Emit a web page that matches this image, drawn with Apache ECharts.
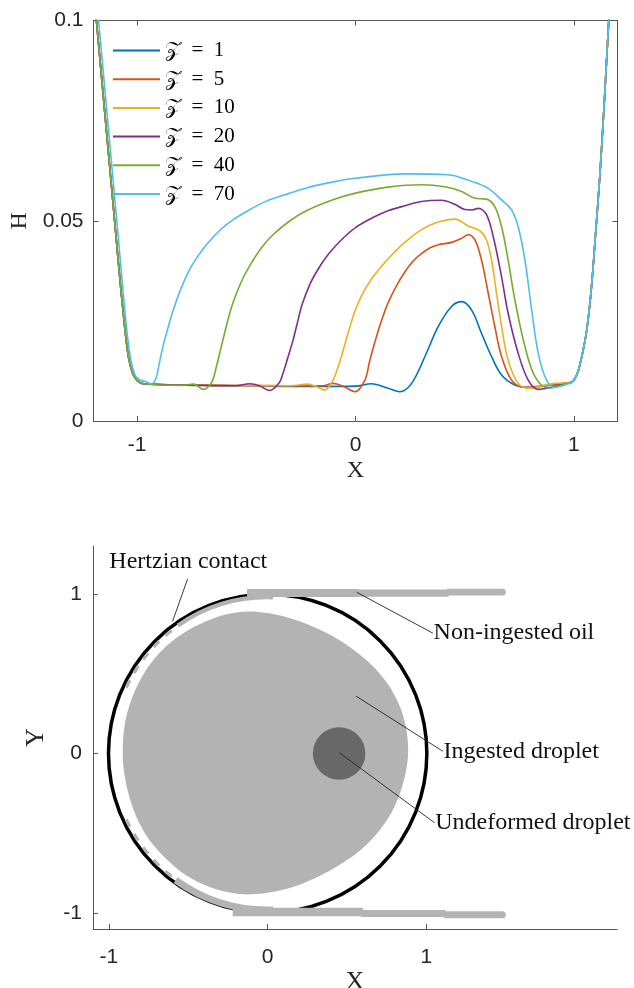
<!DOCTYPE html>
<html><head><meta charset="utf-8">
<script src="https://cdn.jsdelivr.net/npm/echarts@6/dist/echarts.min.js"></script>
<style>html,body{margin:0;padding:0;background:#fff}#c{width:634px;height:988px}</style>
</head><body><div id="c"></div>
<script>
// ---------- top panel data ----------
const seriesNames = ['\u{1D4B5}\u2002=\u20021','\u{1D4B5}\u2002=\u20025','\u{1D4B5}\u2002=\u200210','\u{1D4B5}\u2002=\u200220','\u{1D4B5}\u2002=\u200240','\u{1D4B5}\u2002=\u200270'];
const seriesColors = ['#0072BD','#D95319','#EDB120','#7E2F8E','#77AC30','#4DBEEE'];
const xTicks = [-1, 0, 1];
const hTicksMax = 0.1;

const leftWall = [[-1.2,0.108],[-1.18,0.096],[-1.16,0.084],[-1.14,0.072],[-1.12,0.060],[-1.10,0.048],[-1.08,0.036],[-1.06,0.025],[-1.04,0.016],[-1.02,0.0118],[-1.0,0.0101],[-0.97,0.0093]];
const rightWall = [[1.0,0.0102],[1.02,0.0125],[1.04,0.017],[1.06,0.023],[1.08,0.033],[1.10,0.047],[1.12,0.062],[1.14,0.080],[1.16,0.100],[1.2,0.136]];

const midZ1 = [[-0.8,0.0090],[-0.5,0.0088],[-0.2,0.0086],[0.0,0.0087],[0.073,0.0093],[0.149,0.0082],[0.203,0.0073],[0.257,0.0094],[0.318,0.0161],[0.379,0.0236],[0.44,0.0286],[0.486,0.0298],[0.532,0.0277],[0.577,0.0219],[0.623,0.0161],[0.669,0.0115],[0.73,0.0090],[0.791,0.0084],[0.913,0.0090],[0.98,0.0095]];
const midZ5 = [[-0.6,0.0089],[-0.3,0.0088],[-0.15,0.0088],[-0.103,0.0094],[-0.05,0.0085],[-0.003,0.0073],[0.043,0.0102],[0.065,0.0150],[0.09,0.0200],[0.12,0.0252],[0.149,0.0295],[0.19,0.0340],[0.226,0.0372],[0.265,0.0400],[0.302,0.0418],[0.34,0.0432],[0.379,0.0440],[0.44,0.0446],[0.486,0.0456],[0.516,0.0465],[0.547,0.0452],[0.577,0.0402],[0.608,0.0319],[0.638,0.0236],[0.669,0.0161],[0.715,0.0102],[0.776,0.0084],[0.913,0.0092],[0.98,0.0095]];
const midZ10 = [[-0.6,0.0089],[-0.3,0.0088],[-0.22,0.0092],[-0.18,0.0086],[-0.141,0.0077],[-0.103,0.0102],[-0.08,0.0135],[-0.06,0.0170],[-0.04,0.0208],[-0.02,0.0245],[0.0,0.0278],[0.03,0.0315],[0.07,0.0352],[0.11,0.0380],[0.15,0.0405],[0.19,0.0428],[0.226,0.0446],[0.302,0.0478],[0.379,0.0497],[0.455,0.0504],[0.516,0.0487],[0.57,0.0475],[0.60,0.0452],[0.623,0.0402],[0.646,0.0319],[0.669,0.0236],[0.699,0.0152],[0.745,0.0094],[0.791,0.0082],[0.913,0.0094],[0.98,0.0096]];
const midZ20 = [[-0.7,0.0089],[-0.55,0.0088],[-0.484,0.0093],[-0.44,0.0088],[-0.393,0.0076],[-0.35,0.0095],[-0.332,0.0119],[-0.31,0.0158],[-0.286,0.0202],[-0.265,0.0248],[-0.245,0.0290],[-0.21,0.0340],[-0.179,0.0372],[-0.14,0.0405],[-0.103,0.0430],[-0.05,0.0460],[0.0,0.0483],[0.08,0.0508],[0.149,0.0525],[0.23,0.0538],[0.302,0.0548],[0.394,0.0551],[0.455,0.0541],[0.501,0.0528],[0.535,0.0527],[0.562,0.0531],[0.60,0.0515],[0.631,0.0460],[0.669,0.0360],[0.699,0.0269],[0.745,0.0169],[0.791,0.0102],[0.837,0.0079],[0.913,0.0086],[0.99,0.0097]];
const midZ40 = [[-0.8,0.0089],[-0.74,0.0092],[-0.698,0.0079],[-0.66,0.0095],[-0.637,0.0136],[-0.615,0.0185],[-0.592,0.0236],[-0.57,0.0280],[-0.545,0.0319],[-0.515,0.0357],[-0.484,0.0388],[-0.43,0.0433],[-0.378,0.0465],[-0.30,0.0500],[-0.225,0.0525],[-0.1,0.0553],[0.0,0.0569],[0.149,0.0584],[0.302,0.0590],[0.409,0.0585],[0.486,0.0573],[0.547,0.0556],[0.60,0.0554],[0.638,0.0535],[0.669,0.0485],[0.699,0.0402],[0.73,0.0302],[0.776,0.0186],[0.822,0.0111],[0.883,0.0082],[0.974,0.0094]];
const fullZ70 = [[-1.2,0.114],[-1.17,0.096],[-1.13,0.072],[-1.09,0.048],[-1.05,0.024],[-1.03,0.0155],[-1.01,0.0115],[-0.99,0.0103],[-0.96,0.0098],[-0.935,0.0093],[-0.915,0.0105],[-0.9,0.0140],[-0.882,0.0186],[-0.86,0.0230],[-0.836,0.0275],[-0.80,0.0330],[-0.76,0.0378],[-0.72,0.0413],[-0.683,0.0440],[-0.62,0.0477],[-0.56,0.0503],[-0.48,0.0529],[-0.408,0.0549],[-0.30,0.0569],[-0.225,0.0582],[-0.1,0.0597],[0.0,0.0606],[0.226,0.0617],[0.424,0.0615],[0.532,0.0598],[0.608,0.0581],[0.669,0.0552],[0.715,0.0527],[0.745,0.0485],[0.776,0.0402],[0.807,0.0277],[0.837,0.0169],[0.875,0.0102],[0.913,0.0084],[0.99,0.0096]];

const curves = [
  leftWall.concat(midZ1, rightWall),
  leftWall.concat(midZ5, rightWall),
  leftWall.concat(midZ10, rightWall),
  leftWall.concat(midZ20, rightWall),
  leftWall.concat(midZ40, rightWall),
  fullZ70.concat(rightWall)
];

// ---------- bottom panel data ----------
const contactCircle = [[0, 0, 1]];            // cx, cy, r
const undeformedDroplet = [[0.45, 0, 0.165]]; // cx, cy, r
const ingestedOutline = [[-0.15,0.888],[-0.30,0.862],[-0.45,0.80],[-0.58,0.72],[-0.69,0.62],[-0.78,0.50],[-0.85,0.36],[-0.895,0.21],[-0.912,0.06],[-0.908,-0.09],[-0.88,-0.24],[-0.83,-0.39],[-0.76,-0.52],[-0.67,-0.63],[-0.56,-0.73],[-0.43,-0.81],[-0.29,-0.86],[-0.15,-0.883],[0.0,-0.873],[0.15,-0.84],[0.30,-0.78],[0.45,-0.70],[0.58,-0.61],[0.69,-0.50],[0.78,-0.37],[0.84,-0.23],[0.875,-0.09],[0.885,0.03],[0.87,0.17],[0.83,0.30],[0.76,0.43],[0.66,0.55],[0.54,0.65],[0.40,0.74],[0.25,0.81],[0.10,0.86],[-0.02,0.882]];
// oil film bands: x1, x2, yLow, yHigh
const oilBands = [[-0.13,0.57,0.980,1.030],[0.56,1.14,0.982,1.028],[1.13,1.5,0.990,1.032],
                  [-0.22,0.60,-1.020,-0.967],[0.59,1.12,-1.025,-0.981],[1.11,1.5,-1.033,-0.988]];
// oil arcs inside contact: startDeg, endDeg, rInner, rOuter
const oilArcs = [[88,125,0.968,0.995],[128,131,0.97,0.99],[134,137,0.97,0.99],[140,143,0.97,0.99],[146,149,0.97,0.99],[152,155,0.97,0.99],
                 [205,208,0.97,0.99],[211,214,0.97,0.99],[217,220,0.97,0.99],[223,226,0.97,0.99],[229,232,0.97,0.99],[234,272,0.962,1.005]];
const annoLabels = ['Hertzian contact','Non-ingested oil','Ingested droplet','Undeformed droplet'];
const annoFrom = [[-0.504,1.094],[0.561,1.01],[0.557,0.359],[0.452,0.004]];
const annoTo   = [[-0.599,0.828],[1.04,0.754],[1.103,0.014],[1.052,-0.435]];
const annoText = [[-0.997,1.204],[1.045,0.756],[1.108,0.0125],[1.055,-0.434]];

const AX = '#555';
const TXT = '#262626';
const SANS = '"Liberation Sans", Arial, sans-serif';
const SERIF = '"Liberation Serif", "Times New Roman", serif';
const LIGHT = '#b3b3b3', DARK = '#686868';

function baseAxis(extra) {
  return Object.assign({
    type: 'value',
    splitLine: { show: false },
    axisLine: { show: true, onZero: false, lineStyle: { color: AX, width: 1 } },
    axisTick: { show: true, inside: true, length: 5, lineStyle: { color: AX } },
    axisLabel: { color: TXT, fontFamily: SANS, fontSize: 21 }
  }, extra);
}

const chart = echarts.init(document.getElementById('c'), null, { renderer: 'canvas' });

const lineSeries = curves.map((d, i) => ({
  type: 'line', name: seriesNames[i], data: d,
  xAxisIndex: 0, yAxisIndex: 0,
  showSymbol: false, smooth: 0.35, clip: true,
  lineStyle: { width: 1.6, color: seriesColors[i] },
  itemStyle: { color: seriesColors[i] },
  z: 2 + i
}));

const option = {
  animation: false,
  backgroundColor: '#fff',
  grid: [
    { left: 93.5, top: 20.5, width: 524, height: 400.5, outerBoundsMode: 'none', containLabel: false },
    { left: 93, top: 546, width: 524, height: 383, outerBoundsMode: 'none', containLabel: false }
  ],
  legend: {
    data: seriesNames, orient: 'vertical', left: 108, top: 35,
    icon: 'rect', itemWidth: 47, itemHeight: 2, itemGap: 7.7,
    textStyle: { fontFamily: SERIF, fontSize: 21, color: '#000', lineHeight: 20 }
  },
  xAxis: [
    baseAxis({ gridIndex: 0, min: -1.2, max: 1.2,
      axisTick: { show: true, inside: true, length: 5, customValues: xTicks, lineStyle: { color: AX } },
      axisLabel: { color: TXT, fontFamily: SANS, fontSize: 21, margin: 14, customValues: xTicks },
      name: 'X', nameLocation: 'middle', nameGap: 38,
      nameTextStyle: { fontFamily: SERIF, fontSize: 24, color: TXT } }),
    baseAxis({ gridIndex: 0, min: -1.2, max: 1.2, position: 'top',
      axisTick: { show: true, inside: true, length: 5, customValues: xTicks, lineStyle: { color: AX } },
      axisLabel: { show: false } }),
    baseAxis({ gridIndex: 1, min: -1.1, max: 2.2,
      axisTick: { show: true, inside: true, length: 5, customValues: xTicks, lineStyle: { color: AX } },
      axisLabel: { color: TXT, fontFamily: SANS, fontSize: 21, margin: 18, customValues: xTicks },
      name: 'X', nameLocation: 'middle', nameGap: 37,
      nameTextStyle: { fontFamily: SERIF, fontSize: 26, color: TXT } })
  ],
  yAxis: [
    baseAxis({ gridIndex: 0, min: 0, max: hTicksMax, interval: 0.05,
      axisLabel: { color: TXT, fontFamily: SANS, fontSize: 21, margin: 10 },
      name: 'H', nameLocation: 'middle', nameGap: 62, nameRotate: 90,
      nameTextStyle: { fontFamily: SERIF, fontSize: 24, color: TXT } }),
    baseAxis({ gridIndex: 0, min: 0, max: hTicksMax, interval: 0.05, position: 'right',
      axisLabel: { show: false } }),
    baseAxis({ gridIndex: 1, min: -1.1, max: 1.3,
      axisTick: { show: true, inside: true, length: 5, customValues: xTicks, lineStyle: { color: AX } },
      axisLabel: { color: TXT, fontFamily: SANS, fontSize: 21, margin: 11, customValues: xTicks },
      name: 'Y', nameLocation: 'middle', nameGap: 44, nameRotate: 90,
      nameTextStyle: { fontFamily: SERIF, fontSize: 26, color: TXT } })
  ],
  series: lineSeries.concat([
    { // ingested droplet
      type: 'custom', xAxisIndex: 2, yAxisIndex: 2, data: [0], z: 1, silent: true,
      renderItem: function (params, api) {
        return { type: 'polygon', shape: { points: ingestedOutline.map(p => api.coord(p)), smooth: 0.3 },
                 style: { fill: LIGHT, stroke: null } };
      }
    },
    { // undeformed droplet
      type: 'custom', xAxisIndex: 2, yAxisIndex: 2, data: undeformedDroplet, z: 2, silent: true,
      renderItem: function (params, api) {
        const c = api.coord([api.value(0), api.value(1)]);
        const s = api.size([api.value(2), api.value(2)]);
        return { type: 'circle', shape: { cx: c[0], cy: c[1], r: (s[0] + s[1]) / 2 },
                 style: { fill: DARK } };
      }
    },
    { // contact circle
      type: 'custom', xAxisIndex: 2, yAxisIndex: 2, data: contactCircle, z: 3, silent: true,
      renderItem: function (params, api) {
        const c = api.coord([api.value(0), api.value(1)]);
        const s = api.size([api.value(2), api.value(2)]);
        return { type: 'circle', shape: { cx: c[0], cy: c[1], r: (s[0] + s[1]) / 2 },
                 style: { fill: null, stroke: '#000', lineWidth: 3.5 } };
      }
    },
    { // oil arcs
      type: 'custom', xAxisIndex: 2, yAxisIndex: 2, data: oilArcs, z: 4, silent: true,
      renderItem: function (params, api) {
        const c = api.coord([0, 0]);
        const r1 = api.size([api.value(2), api.value(2)]);
        const r2 = api.size([api.value(3), api.value(3)]);
        return { type: 'sector', shape: { cx: c[0], cy: c[1], r0: (r1[0] + r1[1]) / 2, r: (r2[0] + r2[1]) / 2,
                 startAngle: -api.value(1) * Math.PI / 180, endAngle: -api.value(0) * Math.PI / 180, clockwise: true },
                 style: { fill: LIGHT } };
      }
    },
    { // oil bands
      type: 'custom', xAxisIndex: 2, yAxisIndex: 2, data: oilBands, z: 5, silent: true,
      renderItem: function (params, api) {
        const a = api.coord([api.value(0), api.value(3)]);
        const b = api.coord([api.value(1), api.value(2)]);
        const last = api.value(1) >= 1.5;
        return { type: 'rect', shape: { x: a[0], y: a[1], width: b[0] - a[0], height: b[1] - a[1], r: last ? [0, 4, 4, 0] : 0 },
                 style: { fill: LIGHT } };
      }
    },
    { // annotations
      type: 'custom', xAxisIndex: 2, yAxisIndex: 2, data: annoLabels.map((t, i) => [i]), z: 6, silent: true,
      renderItem: function (params, api) {
        const i = api.value(0);
        const p1 = api.coord(annoFrom[i]);
        const p2 = api.coord(annoTo[i]);
        const pt = api.coord(annoText[i]);
        return { type: 'group', children: [
          { type: 'line', shape: { x1: p1[0], y1: p1[1], x2: p2[0], y2: p2[1] }, style: { stroke: '#222', lineWidth: 0.9 } },
          { type: 'text', x: pt[0], y: pt[1], style: { text: annoLabels[i], fill: '#111', font: '24px ' + SERIF, align: 'left', verticalAlign: 'middle' } }
        ] };
      }
    }
  ])
};
chart.setOption(option);
</script></body></html>
